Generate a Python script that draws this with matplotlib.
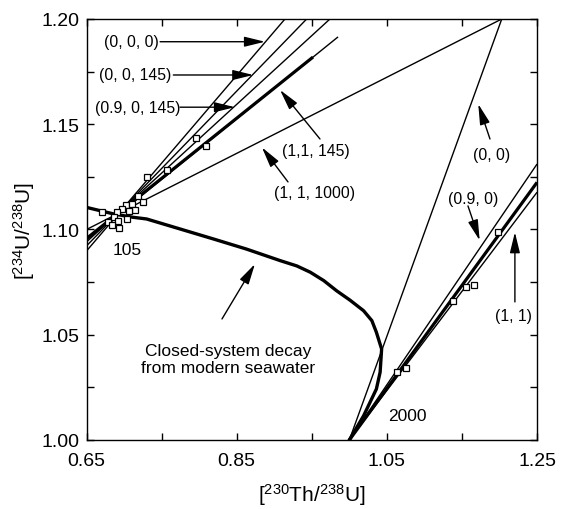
import numpy as np
import matplotlib
matplotlib.use("Agg")
import matplotlib.pyplot as plt

plt.rcParams['font.family'] = ['Liberation Sans', 'DejaVu Sans']
plt.rcParams['mathtext.fontset'] = 'custom'
plt.rcParams['mathtext.rm'] = 'Liberation Sans'
plt.rcParams['mathtext.it'] = 'Liberation Sans:italic'

# measured samples (open squares)
young_x = [0.796, 0.809, 0.730, 0.757, 0.719, 0.725, 0.702, 0.710, 0.715, 0.707,
           0.697, 0.690, 0.670, 0.678, 0.686, 0.692, 0.704, 0.684, 0.693]
young_y = [1.1433, 1.1397, 1.1251, 1.1283, 1.1158, 1.1132, 1.1116, 1.1121, 1.1094, 1.1089,
           1.1097, 1.1082, 1.1083, 1.1034, 1.1058, 1.1042, 1.1050, 1.1021, 1.1007]
old_x = [1.198, 1.166, 1.156, 1.138, 1.075, 1.064]
old_y = [1.0987, 1.0738, 1.0725, 1.0662, 1.0342, 1.0324]

# closed-system decay curve from modern seawater
decay_x = [0.650, 0.686, 0.712, 0.730, 0.775, 0.819, 0.863, 0.908, 0.930, 0.948, 0.966,
           0.983, 1.001, 1.019, 1.030, 1.036, 1.043, 1.041, 1.036, 1.019, 1.000]
decay_y = [1.1105, 1.1074, 1.1058, 1.1050, 1.1002, 1.0955, 1.0907, 1.0852, 1.0827, 1.0797,
           1.0757, 1.0709, 1.0664, 1.0614, 1.0567, 1.0512, 1.0432, 1.0322, 1.0242, 1.0115, 1.000]

# isochron lines: (x0, y0, x1, y1, thick)
young_lines = [
    (0.65, 1.0898, 0.9143, 1.2, False),   # (0, 0, 0)
    (0.65, 1.0922, 0.9432, 1.2, False),   # (0, 0, 145)
    (0.65, 1.0941, 0.9742, 1.2, False),   # (0.9, 0, 145)
    (0.65, 1.0950, 0.985, 1.1915, False),
    (0.65, 1.0957, 0.9516, 1.1819, True),  # (1,1, 145)
    (0.65, 1.1000, 1.203, 1.2, False),    # (1, 1, 1000)
]
old_lines = [
    (1.0, 1.0, 1.203, 1.2, False),        # (0, 0)
    (1.0, 1.0, 1.25, 1.1311, False),      # (0.9, 0)
    (1.0, 1.0, 1.25, 1.1224, True),
    (1.0, 1.0, 1.25, 1.1177, False),      # (1, 1)
]

fig = plt.figure(figsize=(5.7, 5.1), dpi=100)
ax = fig.add_axes([0.1518, 0.1353, 0.7904, 0.8255])

for x0, y0, x1, y1, thick in young_lines + old_lines:
    ax.plot([x0, x1], [y0, y1], color='black', lw=2.3 if thick else 1.0,
            solid_capstyle='butt')

ax.plot(decay_x, decay_y, color='black', lw=2.4)

ax.plot(young_x, young_y, 's', ms=5, mfc='white', mec='black', mew=0.9)
ax.plot(old_x, old_y, 's', ms=5, mfc='white', mec='black', mew=0.9)

arrow = dict(arrowstyle='-|>,head_length=0.9,head_width=0.22', color='black',
             lw=1.0, mutation_scale=14, shrinkA=0, shrinkB=0)

# (label, label pos, arrow tail, arrow tip)
notes = [
    ('(0, 0, 0)', (0.7099, 1.1892), (0.748, 1.1892), (0.8877, 1.1892)),
    ('(0, 0, 145)', (0.715, 1.1734), (0.7656, 1.1734), (0.8721, 1.1734)),
    ('(0.9, 0, 145)', (0.7175, 1.1581), (0.7745, 1.1581), (0.8477, 1.1581)),
    ('(1,1, 145)', (0.9556, 1.1373), (0.9609, 1.1430), (0.9077, 1.1663)),
    ('(1, 1, 1000)', (0.9536, 1.1178), (0.9183, 1.1226), (0.8836, 1.1390)),
    ('(0, 0)', (1.1893, 1.1354), (1.1873, 1.1430), (1.1717, 1.1596)),
    ('(0.9, 0)', (1.1653, 1.1145), (1.158, 1.1112), (1.1736, 1.0948)),
    ('(1, 1)', (1.2192, 1.0590), (1.2205, 1.0656), (1.2205, 1.0987)),
]
for text, pos, tail, tip in notes:
    ax.text(pos[0], pos[1], text, ha='center', va='center', fontsize=11.3)
    ax.annotate('', xy=tip, xytext=tail, arrowprops=arrow)

ax.text(0.8384, 1.0385, 'Closed-system decay\nfrom modern seawater',
        ha='center', va='center', fontsize=12.5, linespacing=1.15)
ax.annotate('', xy=(0.8743, 1.0836), xytext=(0.8304, 1.0575), arrowprops=arrow)

ax.text(0.7046, 1.0907, '105', ha='center', va='center', fontsize=12.5)
ax.text(1.0774, 1.0116, '2000', ha='center', va='center', fontsize=12.5)

ax.set_xlim(0.65, 1.25)
ax.set_ylim(1.00, 1.20)
ax.set_xticks(np.arange(0.65, 1.2501, 0.1))
ax.set_xticklabels(['0.65', '', '0.85', '', '1.05', '', '1.25'])
ax.set_yticks(np.arange(1.00, 1.2001, 0.05))
ax.set_yticklabels(['1.00', '1.05', '1.10', '1.15', '1.20'])
ax.set_yticks(np.arange(1.025, 1.2, 0.05), minor=True)
ax.tick_params(which='both', direction='in', length=5, width=1,
               top=True, right=True, labelsize=14)
ax.tick_params(axis='x', pad=9)
ax.tick_params(axis='y', pad=5)
for s in ax.spines.values():
    s.set_linewidth(1.0)

ax.set_xlabel(r'[$^{230}$Th/$^{238}$U]', fontsize=15, labelpad=8)
ax.set_ylabel(r'[$^{234}$U/$^{238}$U]', fontsize=15, labelpad=3)

fig.savefig('out.png', dpi=100)
